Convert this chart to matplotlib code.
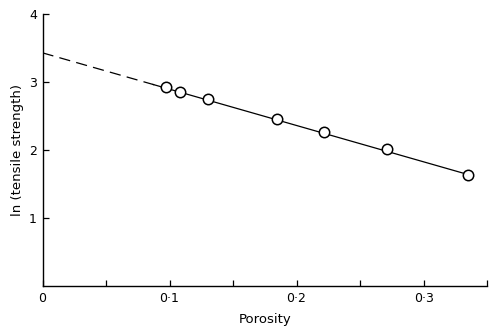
import matplotlib
import numpy as np

matplotlib.use("Agg")
from matplotlib import pyplot as plt

# measured points (porosity, ln tensile strength)
porosity = [0.097, 0.108, 0.130, 0.185, 0.222, 0.271, 0.335]
ln_strength = [2.93, 2.85, 2.75, 2.45, 2.27, 2.02, 1.64]

# fitted line: intercept at zero porosity, dashed extrapolation back to it
fit_intercept = 3.43
fit_end = (0.335, 1.64)
dash_until = 0.095

x_ticks = [0.0, 0.05, 0.10, 0.15, 0.20, 0.25, 0.30, 0.35]
x_tick_labels = ["0", "", "0\u00b71", "", "0\u00b72", "", "0\u00b73", ""]
y_ticks = [1, 2, 3, 4]
y_tick_labels = ["1", "2", "3", "4"]

plt.rcParams["font.family"] = ["DejaVu Sans"]

figure = plt.figure(figsize=(4.91, 3.28), dpi=100)
axis = figure.add_axes([0.0866, 0.128, 0.9054, 0.829])

slope = (fit_end[1] - fit_intercept) / fit_end[0]
dash_x = np.array([0.0, dash_until])
axis.plot(dash_x, fit_intercept + slope * dash_x, color="black", linewidth=0.9,
          linestyle=(0, (9, 5)))
solid_x = np.array([0.087, fit_end[0]])
axis.plot(solid_x, fit_intercept + slope * solid_x, color="black", linewidth=0.9)
axis.plot(porosity, ln_strength, linestyle="none", marker="o", markersize=7.5,
          markerfacecolor="white", markeredgecolor="black", markeredgewidth=1.1)

axis.set_xlim(0, 0.35)
axis.set_ylim(0, 4)
axis.set_xticks(x_ticks)
axis.set_xticklabels(x_tick_labels)
axis.set_yticks(y_ticks)
axis.set_yticklabels(y_tick_labels)
axis.tick_params(direction="in", length=4, width=0.9, labelsize=9, pad=4)
axis.spines["top"].set_visible(False)
axis.spines["right"].set_visible(False)
axis.spines["left"].set_linewidth(1.0)
axis.spines["bottom"].set_linewidth(1.0)
axis.set_xlabel("Porosity", fontsize=9.5, labelpad=6)
axis.set_ylabel("ln (tensile strength)", fontsize=9.5, labelpad=4)

figure.savefig("out.png", dpi=100)
plt.close(figure)
